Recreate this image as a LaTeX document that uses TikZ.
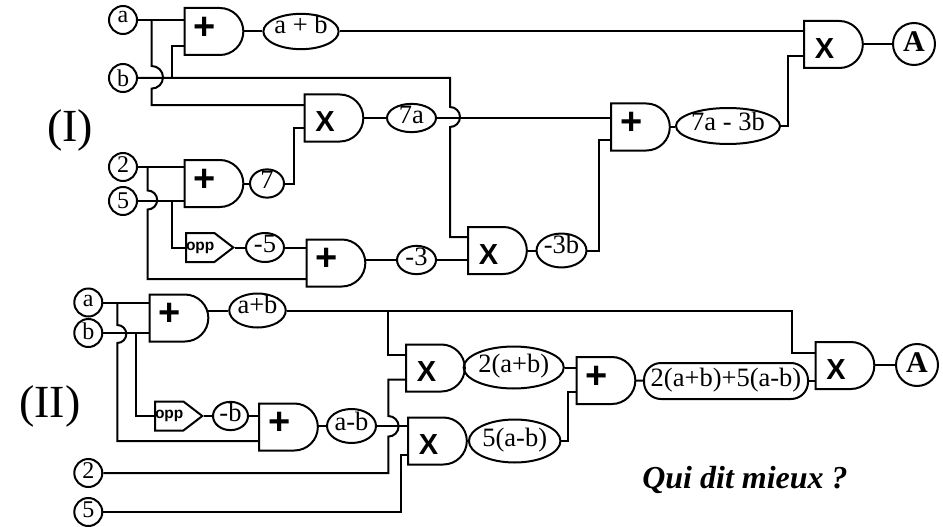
\documentclass[tikz,border=0pt]{standalone}
\usepackage{fontspec}
\setmainfont{Liberation Serif}
\setsansfont{Liberation Sans}
\usetikzlibrary{shapes.geometric,shapes.gates.logic.US,shapes.symbols}
\newcommand{\fsz}[1]{\fontsize{#1}{#1}\selectfont}
\tikzset{
  wire/.style={line width=2pt},
  innode/.style={circle,draw,line width=2pt,minimum size=28pt,inner sep=0pt,font=\fsz{24},text height=14pt,text depth=4pt},
  outnode/.style={circle,draw,line width=2pt,minimum size=42pt,inner sep=0pt,font=\fsz{30}\bfseries,text height=20pt,text depth=5.4pt},
  val/.style 2 args={ellipse,draw,line width=2pt,minimum width=#1pt,minimum height=#2pt,inner sep=0pt,font=\fsz{26.5},text height=15pt,text depth=5pt},
  gate/.style={and gate US,draw,line width=2pt,logic gate inputs=nn,minimum width=55pt,minimum height=47pt,inner sep=0pt,outer sep=0pt,xshift=-1.5pt},
  addgate/.style={gate,label={[font=\fsz{38}\bfseries\sffamily,inner sep=0pt,xshift=-7pt,yshift=3.5pt]center:+}},
  mulgate/.style={gate,label={[font=\fsz{29}\bfseries\sffamily,inner sep=0pt,xshift=-7pt,yshift=-4pt]center:X}},
  oppnode/.style={signal,signal to=east,signal pointer angle=75,draw,line width=2pt,minimum height=29pt,inner xsep=0pt,inner ysep=0pt,anchor=west,font=\fsz{15.5}\bfseries\sffamily},
}
\begin{document}
\begin{tikzpicture}[x=1pt,y=-1pt]
\useasboundingbox (0,0) rectangle (943,527);
% circuit (I)
\node[font=\fsz{46}] (t1) at (70,130) {(I)};
\node[innode,text height=10pt,text depth=4.6pt] (ia) at (123,20) {a};
\node[innode,text height=20pt] (ib) at (123,78) {b};
\node[innode] (i2) at (123,167) {2};
\node[innode,text height=18pt] (i5) at (123,201) {5};
\node[addgate] (g1) at (213.5,31.5) {};
\node[mulgate] (g2) at (333.5,118) {};
\node[addgate] (g3) at (213.5,183.5) {};
\node[addgate] (g4) at (335.5,263) {};
\node[mulgate] (g5) at (497,250.5) {};
\node[addgate] (g6) at (640,127) {};
\node[mulgate] (g7) at (833,44.5) {};
\node[oppnode] (o1) at (185,247.5) {opp};
\node[val={72}{30},text depth=10pt] (v1) at (301,31.5) {a + b};
\node[val={49}{28}] (v2) at (411.5,118) {7a};
\node[val={34}{28}] (v3) at (267,183.5) {7};
\node[val={38}{29}] (v4) at (265,247.5) {-5};
\node[val={39}{28}] (v5) at (416.5,260) {-3};
\node[val={47}{29},text depth=9pt] (v6) at (561.5,250.5) {-3b};
\node[val={87}{36},text depth=7pt] (v7) at (728,126) {7a - 3b};
\node[outnode] (oa) at (914,44) {A};
\coordinate (ja) at (151.7,20);
\coordinate (ha) at (151.7,66);
\coordinate (jb) at (172.3,78);
\coordinate (hb) at (450,107);
\coordinate (j2) at (147.7,167);
\coordinate (h2) at (147.7,190.5);
\coordinate (j5) at (172.3,201);
\draw[wire] (ia) -- (g1.west |- ia);
\draw[wire] (ja) -- (ha) arc[start angle=-90,end angle=90,radius=11.3] |- (g2.west |- 0,105);
\draw[wire] (ib) -| (hb) arc[start angle=-90,end angle=90,radius=10] |- (g5.west |- 0,237);
\draw[wire] (jb) |- (g1.west |- 0,46);
\draw[wire] (g1.east |- v1) -- (v1);
\draw[wire] (v1) -- (g7.west |- v1);
\draw[wire] (g2.east |- v2) -- (v2);
\draw[wire] (v2) -- (g6.west |- v2);
\draw[wire] (i2) -- (g3.west |- i2);
\draw[wire] (i5) -- (g3.west |- i5);
\draw[wire] (j2) -- (h2) arc[start angle=-90,end angle=90,radius=9.5] |- (g4.west |- 0,279);
\draw[wire] (j5) |- (o1.west);
\draw[wire] (g3.east |- v3) -- (v3);
\draw[wire] (v3) -| (294,127.5) -- (g2.west |- 0,127.5);
\draw[wire] (o1.east) -- (v4);
\draw[wire] (v4) -- (g4.west |- v4);
\draw[wire] (g4.east |- v5) -- (v5);
\draw[wire] (v5) -- (g5.west |- v5);
\draw[wire] (g5.east |- v6) -- (v6);
\draw[wire] (v6) -| (599,140) -- (g6.west |- 0,140);
\draw[wire] (g6.east) -- (v7.west |- g6.east);
\draw[wire] (v7) -| (787.7,56.5) -- (g7.west |- 0,56.5);
\draw[wire] (g7.east |- oa) -- (oa);
% circuit (II)
\node[font=\fsz{46}] (t2) at (50,406) {(II)};
\node[innode,text height=12pt] (ka) at (88.3,302.5) {a};
\node[innode,text height=17pt,text depth=3.6pt] (kb) at (88.3,333) {b};
\node[innode,text height=15.4pt] (k2) at (88.3,473) {2};
\node[innode,text height=15.4pt] (k5) at (88.3,512) {5};
\node[addgate] (m1) at (178.5,318) {};
\node[addgate] (m2) at (288,427) {};
\node[mulgate] (m3) at (435,368) {};
\node[mulgate] (m4) at (437,441) {};
\node[addgate] (m5) at (605.5,380.5) {};
\node[mulgate] (m6) at (844.5,365.5) {};
\node[oppnode] (o2) at (154,416) {opp};
\node[val={51}{34},text depth=9pt] (w1) at (257.5,310.5) {a+b};
\node[val={35}{28}] (w2) at (230.5,416) {-b};
\node[val={49}{34},text depth=7pt] (w3) at (351.5,426) {a-b};
\node[val={81}{42}] (w4) at (513.7,367.5) {2(a+b)};
\node[val={79}{43}] (w5) at (514.7,441) {5(a-b)};
\node[draw,line width=2pt,rounded corners=17pt,minimum width=164pt,minimum height=36pt,inner sep=0pt,font=\fsz{26.5},text height=15pt,text depth=5pt] (w6) at (726,381) {2(a+b)+5(a-b)};
\node[outnode] (ob) at (917,365) {A};
\node[font=\fsz{32}\bfseries\itshape] (t3) at (745,480) {Qui dit mieux ?};
\coordinate (la) at (117.3,302.5);
\coordinate (lh) at (117.3,325);
\coordinate (lb) at (136,333);
\coordinate (lc) at (388.3,310.5);
\coordinate (ld) at (388.3,379.5);
\coordinate (le) at (388.3,416);
\draw[wire] (ka) -- (m1.west |- ka);
\draw[wire] (kb) -- (m1.west |- kb);
\draw[wire] (la) -- (lh) arc[start angle=-90,end angle=90,radius=9] |- (m2.west |- 0,441);
\draw[wire] (lb) |- (o2.west);
\draw[wire] (o2.east) -- (w2);
\draw[wire] (w2) -- (m2.west |- w2);
\draw[wire] (m1.east |- w1) -- (w1);
\draw[wire] (w1) -| (791.7,352.5) -- (m6.west |- 0,352.5);
\draw[wire] (lc) |- (m3.west |- 0,355);
\draw[wire] (m3.west |- ld) -- (ld) -- (le) arc[start angle=-90,end angle=90,radius=10.3] |- (k2);
\draw[wire] (m2.east |- w3) -- (w3);
\draw[wire] (w3) -- (m4.west |- w3);
\draw[wire] (k5) -| (400.7,455) -- (m4.west |- 0,455);
\draw[wire] (m3.east |- w4) -- (w4);
\draw[wire] (m4.east |- w5) -- (w5);
\draw[wire] (w4) -- (m5.west |- w4);
\draw[wire] (w5) -| (568,392) -- (m5.west |- 0,392);
\draw[wire] (m5.east) -- (w6);
\draw[wire] (w6) -- (m6.west |- w6);
\draw[wire] (m6.east |- ob) -- (ob);
\end{tikzpicture}
\end{document}
